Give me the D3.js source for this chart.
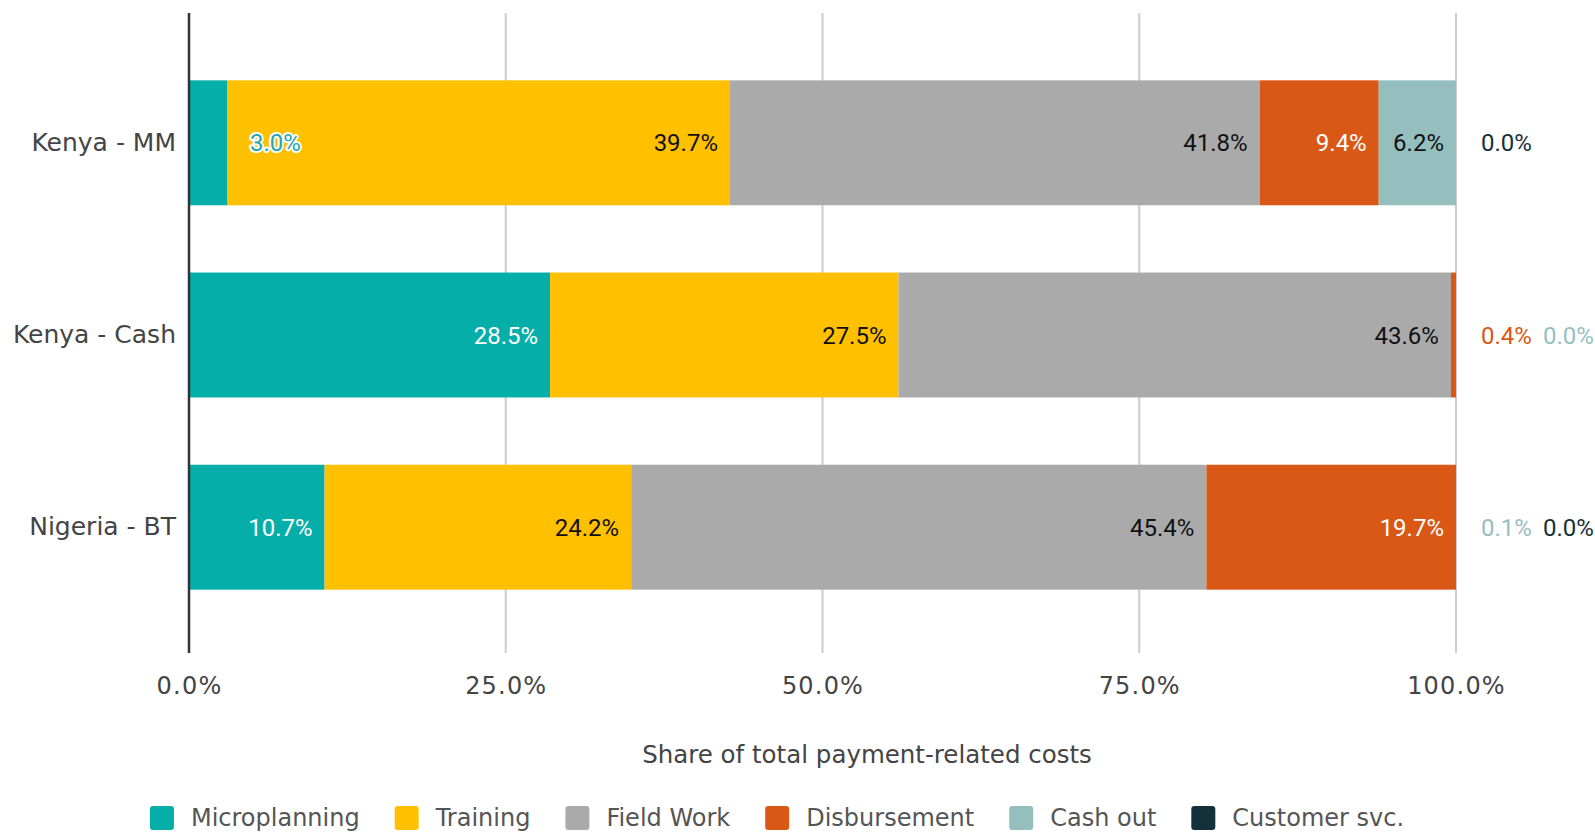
<!DOCTYPE html>
<html>
<head>
<meta charset="utf-8">
<script src="https://cdn.jsdelivr.net/npm/d3@7"></script>
<style>
  html, body { margin: 0; padding: 0; background: #fff; }
  svg { display: block; }
</style>
</head>
<body>
<svg id="chart" width="1595" height="833"></svg>
<script>
// Cost categories (rows) and cost components (stack segments), in percent
const categories = ["Kenya - MM", "Kenya - Cash", "Nigeria - BT"];
const seriesNames = ["Microplanning", "Training", "Field Work", "Disbursement", "Cash out", "Customer svc."];
const microplanning = [3.0, 28.5, 10.7];
const training      = [39.7, 27.5, 24.2];
const fieldWork     = [41.8, 43.6, 45.4];
const disbursement  = [9.4, 0.4, 19.7];
const cashOut       = [6.2, 0.0, 0.1];
const customerSvc   = [0.0, 0.0, 0.0];
const xTicks = [0, 25, 50, 75, 100];
const xTitle = "Share of total payment-related costs";

const seriesColors = ["#06aea9", "#ffc000", "#aaaaaa", "#d95815", "#95bfbf", "#14303a"];
const insideText  = ["#ffffff", "#111111", "#111111", "#ffffff", "#111111", "#ffffff"];
const outsideText = ["#22a6b0", "#e0a800", "#888888", "#d95815", "#95bfbf", "#14303a"];

const seriesValues = [microplanning, training, fieldWork, disbursement, cashOut, customerSvc];
const rows = categories.map((c, i) => {
  const r = { category: c };
  seriesNames.forEach((s, j) => { r[s] = seriesValues[j][i]; });
  return r;
});

const W = 1595, H = 833;
const svg = d3.select("#chart");

const x = d3.scaleLinear().domain([0, 100]).range([189, 1456]).clamp(true);
const y = d3.scaleBand().domain(categories).range([15, 655]).paddingInner(0.35).paddingOuter(0.34);

const stacked = d3.stack().keys(seriesNames)(rows);

// Vertical gridlines
svg.append("g")
  .selectAll("line")
  .data(xTicks.filter(t => t > 0))
  .join("line")
  .attr("x1", d => x(d)).attr("x2", d => x(d))
  .attr("y1", 13).attr("y2", 653)
  .attr("stroke", "#cccccc").attr("stroke-width", 2);

// Bars
svg.append("g")
  .selectAll("g")
  .data(stacked)
  .join("g")
  .attr("fill", (d, i) => seriesColors[i])
  .selectAll("rect")
  .data(d => d)
  .join("rect")
  .attr("x", d => x(d[0]))
  .attr("y", d => y(d.data.category))
  .attr("width", d => Math.max(0, x(d[1]) - x(d[0])))
  .attr("height", y.bandwidth());

// Category axis line
svg.append("line")
  .attr("x1", 189).attr("x2", 189)
  .attr("y1", 13).attr("y2", 653)
  .attr("stroke", "#333333").attr("stroke-width", 2.5);

// X axis tick labels
const xAxis = d3.axisBottom(x)
  .tickValues(xTicks)
  .tickSize(0)
  .tickPadding(0)
  .tickFormat(d => d3.format(".1f")(d) + "%");
const xg = svg.append("g").attr("transform", "translate(0,677)").call(xAxis);
xg.select(".domain").remove();
xg.selectAll("text")
  .attr("font-family", "DejaVu Sans")
  .attr("font-size", 24)
  .attr("fill", "#444444")
  .attr("letter-spacing", "1.2px")
  .attr("dy", "0.71em");

// Category labels
const yAxis = d3.axisLeft(y).tickSize(0).tickPadding(13);
const yg = svg.append("g").attr("transform", "translate(189,0)").call(yAxis);
yg.select(".domain").remove();
yg.selectAll("text")
  .attr("font-family", "DejaVu Sans")
  .attr("font-size", 25)
  .attr("fill", "#444444");

// Axis title
svg.append("text")
  .attr("x", 867).attr("y", 763)
  .attr("text-anchor", "middle")
  .attr("font-family", "DejaVu Sans")
  .attr("font-size", 24.5)
  .attr("fill", "#444444")
  .text(xTitle);

// Value labels
const labelG = svg.append("g")
  .attr("font-family", "Roboto")
  .attr("font-size", 24);
const fmt = v => d3.format(".1f")(v) + "%";
const outsideCount = {};
stacked.forEach((layer, si) => {
  layer.forEach(d => {
    const cat = d.data.category;
    const v = d.data[seriesNames[si]];
    const x0 = x(d[0]), x1 = x(d[1]);
    const cy = y(cat) + y.bandwidth() / 2;
    const t = labelG.append("text")
      .attr("y", cy)
      .attr("dy", "0.36em")
      .text(fmt(v));
    const tw = t.node().getComputedTextLength();
    if (x1 - x0 >= tw + 20) {
      // fits inside the segment: right aligned near its end
      t.attr("x", x1 - 12).attr("text-anchor", "end").attr("fill", insideText[si]);
    } else if (x0 >= x(100) - 10) {
      // segment sits at the end of the bar: list labels past 100%
      const k = outsideCount[cat] || 0;
      outsideCount[cat] = k + 1;
      const px = x(100) + 25 + k * 62;
      if (px + tw > W) { t.remove(); return; }
      t.attr("x", px).attr("text-anchor", "start").attr("fill", outsideText[si]);
    } else {
      // thin segment inside the bar: label just after it, with a halo
      t.attr("x", x1 + 23).attr("text-anchor", "start")
        .attr("fill", outsideText[si])
        .attr("stroke", "#ffffff").attr("stroke-width", 4)
        .attr("stroke-linejoin", "round")
        .attr("paint-order", "stroke");
    }
  });
});

// Legend
const legend = svg.append("g");
const items = legend.selectAll("g")
  .data(seriesNames)
  .join("g");
items.append("rect")
  .attr("width", 24).attr("height", 24)
  .attr("rx", 3)
  .attr("y", 806)
  .attr("fill", (d, i) => seriesColors[i]);
items.append("text")
  .attr("x", 41)
  .attr("y", 817)
  .attr("dy", "0.36em")
  .attr("font-family", "DejaVu Sans")
  .attr("font-size", 24)
  .attr("fill", "#555555")
  .text(d => d);
let lx = 0;
const offsets = [];
items.each(function () {
  offsets.push(lx);
  const w = 41 + d3.select(this).select("text").node().getComputedTextLength();
  lx += w + 35;
});
const totalW = lx - 35;
const startX = 777 - totalW / 2;
items.attr("transform", (d, i) => `translate(${startX + offsets[i]},0)`);
</script>
</body>
</html>
